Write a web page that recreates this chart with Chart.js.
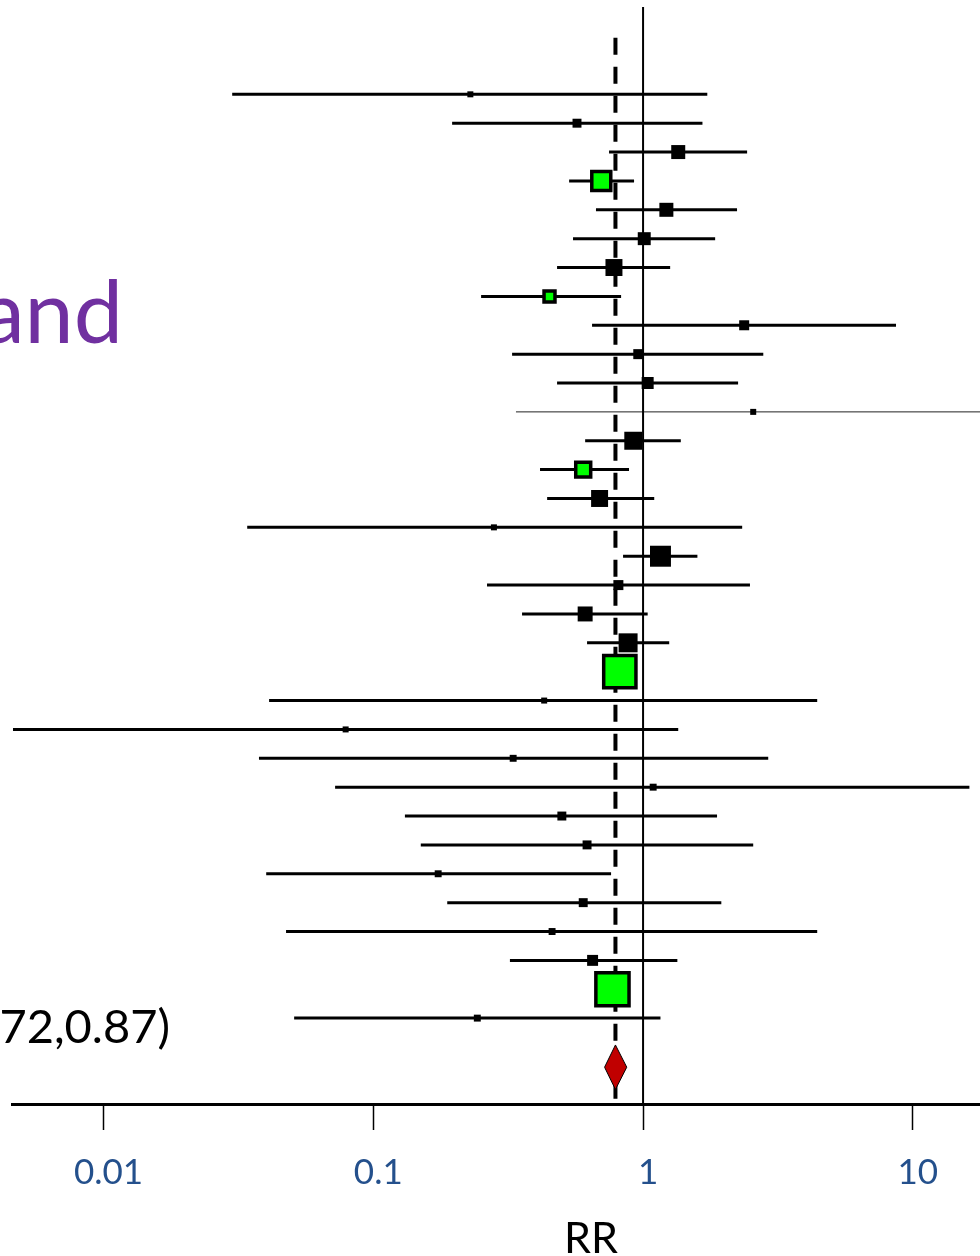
<!DOCTYPE html>
<html>
<head>
<meta charset="utf-8">
<title>Forest plot</title>
<script src="https://cdn.jsdelivr.net/npm/chart.js@4.4.0/dist/chart.umd.min.js"></script>
<style>
  html, body { margin: 0; padding: 0; background: #fff; overflow: hidden; }
  #wrap { width: 980px; height: 1256px; overflow: hidden; }
</style>
</head>
<body>
<div id="wrap"><canvas id="forest" width="985" height="1256"></canvas></div>
<script>
// --- Study rows, top to bottom ---
const rowNumbers = [1, 2, 3, 4, 5, 6, 7, 8, 9, 10, 11, 12, 13, 14, 15, 16, 17,
  18, 19, 20, 21, 22, 23, 24, 25, 26, 27, 28, 29, 30, 31, 32, 33];
const rr = [0.229, 0.569, 1.35, 0.70, 1.22, 1.01, 0.78, 0.45, 2.37, 0.96, 1.04,
  2.56, 0.92, 0.60, 0.69, 0.28, 1.16, 0.81, 0.61, 0.88, 0.82, 0.43, 0.079, 0.33,
  1.09, 0.50, 0.62, 0.174, 0.60, 0.46, 0.65, 0.77, 0.243];
const lower = [0.030, 0.196, 0.748, 0.532, 0.669, 0.550, 0.480, 0.251, 0.647,
  0.327, 0.480, 0.338, 0.610, 0.415, 0.441, 0.0341, 0.843, 0.264, 0.356, 0.620,
  0.75, 0.0411, 0.00462, 0.0377, 0.0722, 0.131, 0.150, 0.0401, 0.188, 0.0475,
  0.321, 0.70, 0.0509];
const upper = [1.73, 1.66, 2.43, 0.926, 2.23, 1.85, 1.26, 0.829, 8.66, 2.79, 2.25,
  25, 1.38, 0.887, 1.10, 2.33, 1.59, 2.49, 1.04, 1.25, 0.90, 4.42, 1.35, 2.91,
  16.2, 1.88, 2.56, 0.761, 1.95, 4.42, 1.34, 0.85, 1.16];
const weights = [9, 20, 49, 90, 49, 42, 72, 30, 25, 25, 36, 9, 81, 56, 72, 9, 110,
  25, 56, 90, 260, 9, 9, 12, 12, 20, 20, 12, 20, 12, 30, 275, 12];
const subgroupRows = [4, 8, 14, 21, 32];   // green boxes

// --- Pooled estimate ---
const pooledRR = 0.79;
const pooledLower = 0.72;
const pooledUpper = 0.87;
const pooledRow = 34.7;

// --- Axis ---
const tickValues = [0.01, 0.1, 1, 10];
const tickLabels = ['0.01', '0.1', '1', '10'];
const axisTitle = 'RR';
const sideLabels = ['and', '72,0.87)'];

const X_MIN = 0.004581, X_MAX = 17.75;
const Y_MIN = -2.025, Y_MAX = 35.975;

function isSubgroup(i) {
  return subgroupRows.includes(rowNumbers[i]);
}

function buildDatasets() {
  const sets = [];

  // confidence interval lines
  rowNumbers.forEach((row, i) => {
    const offChart = upper[i] > X_MAX;
    sets.push({
      data: [{ x: lower[i], y: row }, { x: upper[i], y: row }],
      borderColor: offChart ? '#222' : '#000',
      borderWidth: offChart ? 1 : 3,
      pointRadius: 0,
      order: 5
    });
  });

  // line of no effect
  sets.push({
    data: [{ x: 1, y: Y_MIN }, { x: 1, y: Y_MAX }],
    borderColor: '#000', borderWidth: 2, pointRadius: 0, order: 4
  });
  // pooled estimate, dashed
  sets.push({
    data: [{ x: pooledRR, y: -0.96 }, { x: pooledRR, y: 35.9 }],
    borderColor: '#000', borderWidth: 4, borderDash: [17, 12],
    pointRadius: 0, order: 3
  });

  // boxes
  sets.push({
    data: rowNumbers.map((row, i) => ({ x: rr[i], y: row })),
    showLine: false,
    pointStyle: 'rect',
    pointRadius: c => Math.SQRT2 * Math.sqrt(weights[c.dataIndex]),
    pointBackgroundColor: c => isSubgroup(c.dataIndex) ? '#00FF00' : '#000',
    pointBorderColor: '#000',
    pointBorderWidth: c => isSubgroup(c.dataIndex) ? 3.5 : 0,
    order: 2
  });

  // pooled diamond: top half then bottom half filled to it
  sets.push({
    data: [{ x: pooledLower, y: pooledRow }, { x: pooledRR, y: pooledRow - 0.77 },
      { x: pooledUpper, y: pooledRow }],
    borderColor: '#000', borderWidth: 1, pointRadius: 0, fill: false, order: 1
  });
  sets.push({
    data: [{ x: pooledLower, y: pooledRow }, { x: pooledRR, y: pooledRow + 0.77 },
      { x: pooledUpper, y: pooledRow }],
    borderColor: '#000', borderWidth: 1, pointRadius: 0,
    fill: '-1', backgroundColor: '#C00000', order: 1
  });
  return sets;
}

// --- Cut-off labels on the left, axis title off-centre ---
const sideText = {
  id: 'sideText',
  afterDraw(chart) {
    const ctx = chart.ctx;
    ctx.save();
    ctx.textAlign = 'right';
    ctx.textBaseline = 'alphabetic';
    ctx.fillStyle = '#7030A0';
    ctx.font = '88px Lato';
    ctx.fillText(sideLabels[0], 123, 343);
    ctx.fillStyle = '#000';
    ctx.font = '47px Lato';
    ctx.fillText(sideLabels[1], 170, 1043);
    ctx.textAlign = 'center';
    ctx.font = '43px Lato';
    ctx.fillText(axisTitle, 591, 1253);
    ctx.restore();
  }
};

function drawChart() {
  new Chart(document.getElementById('forest'), {
    type: 'line',
    data: { datasets: buildDatasets() },
    plugins: [sideText],
    options: {
      responsive: false,
      animation: false,
      layout: { padding: { left: 12, right: 0, top: 7, bottom: 0 } },
      plugins: { legend: { display: false }, tooltip: { enabled: false } },
      elements: { line: { tension: 0 } },
      scales: {
        x: {
          type: 'logarithmic',
          position: 'bottom',
          min: X_MIN,
          max: X_MAX,
          afterBuildTicks: scale => {
            scale.ticks = tickValues.map(v => ({ value: v }));
          },
          afterFit: scale => { scale.height = 152; },
          grid: {
            drawOnChartArea: false,
            drawTicks: true,
            tickLength: 26,
            tickColor: '#000',
            tickWidth: 1.5
          },
          border: { display: true, color: '#000', width: 3 },
          ticks: {
            autoSkip: false,
            maxRotation: 0,
            padding: 22,
            labelOffset: 5,
            color: '#24508C',
            font: { family: 'Lato', size: 35 },
            callback: v => tickLabels[tickValues.indexOf(v)]
          },
          title: { display: false }
        },
        y: {
          type: 'linear',
          display: false,
          reverse: true,
          min: Y_MIN,
          max: Y_MAX
        }
      }
    }
  });
}

document.fonts.load('35px Lato').then(drawChart, drawChart);
</script>
</body>
</html>
